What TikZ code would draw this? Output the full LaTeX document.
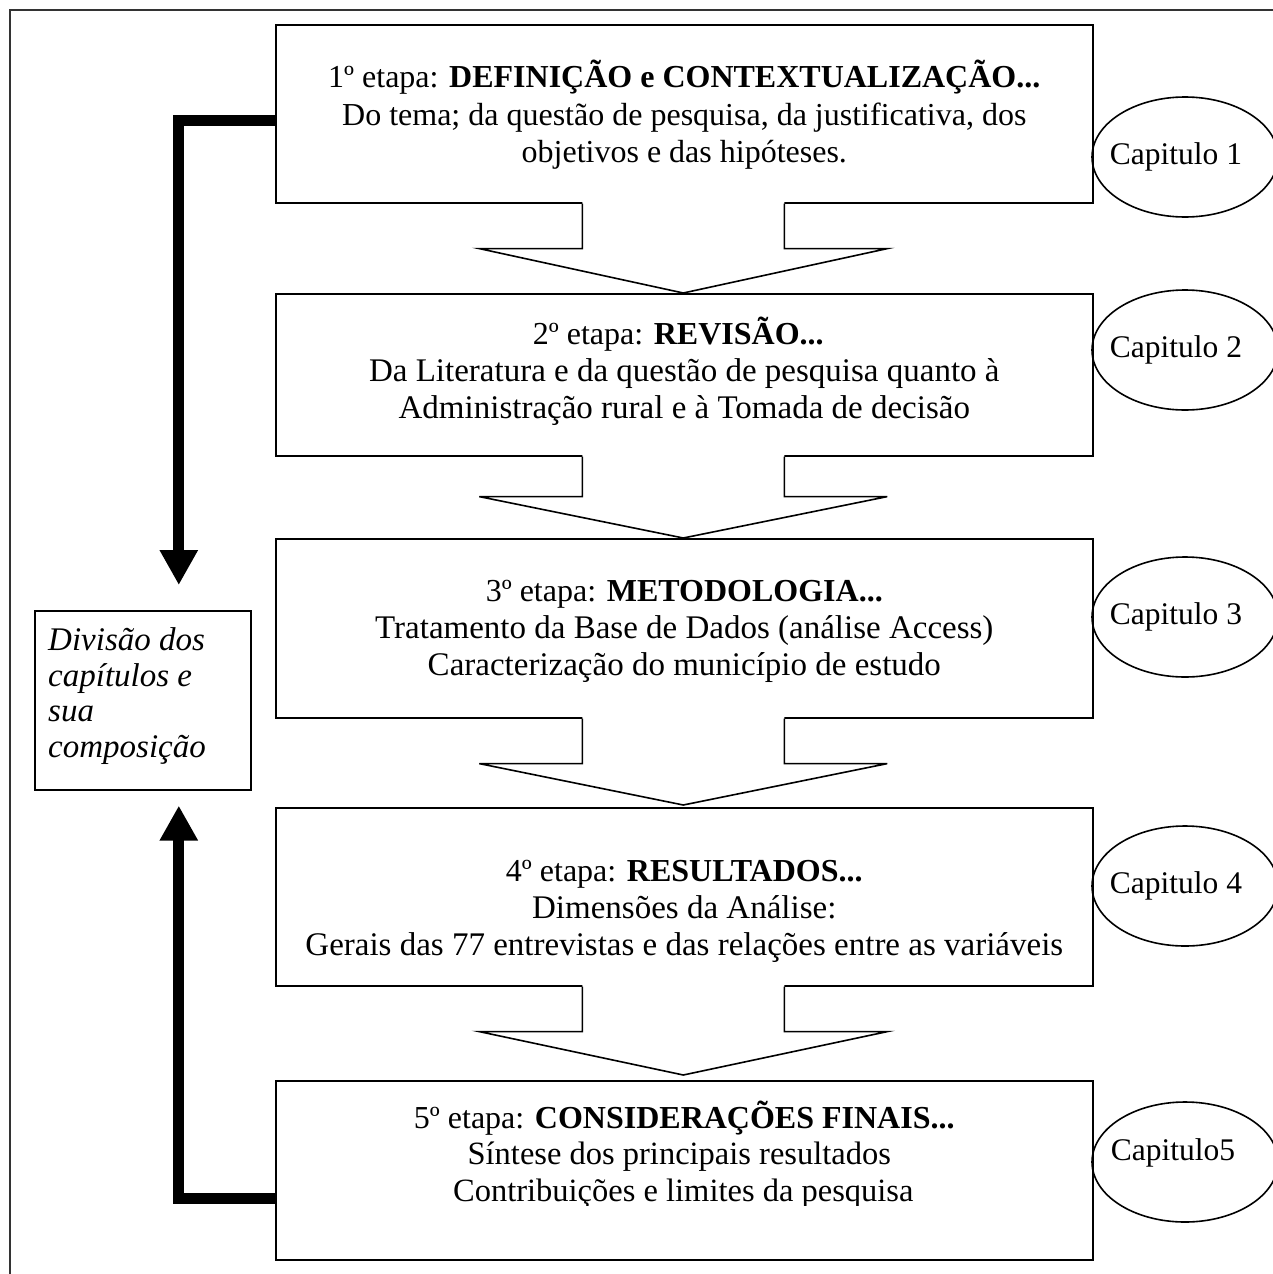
\documentclass[tikz,border=0pt]{standalone}
\usepackage{fontspec}
\setmainfont{Liberation Serif}
\usetikzlibrary{arrows.meta,calc,shapes.geometric}
\begin{document}
\begin{tikzpicture}[x=1pt,y=-1pt,
  thin line/.style={line width=1.6pt, line join=miter},
  stagebox/.style={draw, thin line, minimum width=817pt, inner sep=0pt, anchor=north west},
  headtxt/.style={inner sep=0pt, anchor=base, font=\fontsize{32}{37}\selectfont},
  bodytxt/.style={inner sep=0pt, anchor=base, font=\fontsize{33}{37}\selectfont},
  chap/.style={draw, thin line, ellipse, minimum width=186pt, minimum height=120pt, inner sep=0pt},
  chaptxt/.style={inner sep=0pt, font=\fontsize{31.5}{38}\selectfont},
  sidetxt/.style={inner sep=0pt, anchor=base west, font=\itshape\fontsize{33}{37}\selectfont},
  thick arrow/.style={line width=11pt, line join=miter, -{Triangle[width=36pt,length=35pt]}},
  blockfill/.style={fill=white},
  blockline/.style={thin line}
]
\useasboundingbox (0,0) rectangle (1273,1274);
\clip (0,0) rectangle (1273,1274);
\fill[white] (0,0) rectangle (1273,1274);

% outer frame
\draw[thin line, black!80] (10,10) rectangle (1320,1320);

% stage boxes
\node[stagebox, minimum height=178pt] (b1) at (275,24) {};
\node[stagebox, minimum height=162pt] (b2) at (275,293) {};
\node[stagebox, minimum height=179pt] (b3) at (275,538) {};
\node[stagebox, minimum height=178pt] (b4) at (275,807) {};
\node[stagebox, minimum height=179pt] (b5) at (275,1080) {};

% stage texts (baselines)
\node[headtxt] (t1a) at ($(b1.north)+(0,63)$) {1º etapa: \textbf{DEFINIÇÃO e CONTEXTUALIZAÇÃO...}};
\node[bodytxt, font=\fontsize{32}{37}\selectfont] (t1b) at ($(b1.north)+(0,101)$) {Do tema; da questão de pesquisa, da justificativa, dos};
\node[bodytxt, font=\fontsize{32}{37}\selectfont] (t1c) at ($(b1.north)+(0,138)$) {objetivos e das hipóteses.};

\node[headtxt] (t2a) at ($(b2.north)+(-6,51)$) {2º etapa: \textbf{REVISÃO...}};
\node[bodytxt] (t2b) at ($(b2.north)+(0,88)$) {Da Literatura e da questão de pesquisa quanto à};
\node[bodytxt] (t2c) at ($(b2.north)+(0,125)$) {Administração rural e à Tomada de decisão};

\node[headtxt] (t3a) at ($(b3.north)+(0,63)$) {3º etapa: \textbf{METODOLOGIA...}};
\node[bodytxt] (t3b) at ($(b3.north)+(0,100)$) {Tratamento da Base de Dados (análise Access)};
\node[bodytxt] (t3c) at ($(b3.north)+(0,137)$) {Caracterização do município de estudo};

\node[headtxt] (t4a) at ($(b4.north)+(0,74)$) {4º etapa: \textbf{RESULTADOS...}};
\node[bodytxt] (t4b) at ($(b4.north)+(0,111)$) {Dimensões da Análise:};
\node[bodytxt] (t4c) at ($(b4.north)+(0,148)$) {Gerais das 77 entrevistas e das relações entre as variáveis};

\begin{scope}
\clip (b5.north west) rectangle ($(b5.north east)+(0,125)$);
\node[headtxt] (t5a) at ($(b5.north)+(0,48)$) {5º etapa: \textbf{CONSIDERAÇÕES FINAIS...}};
\node[bodytxt, font=\fontsize{32.5}{37}\selectfont] (t5b) at ($(b5.north)+(-5,84.5)$) {Síntese dos principais resultados};
\node[bodytxt, font=\fontsize{32.5}{37}\selectfont] (t5c) at ($(b5.north)+(-1,121)$) {Contribuições e limites da pesquisa};
\end{scope}

% block arrows between stages
\foreach \up/\dn/\hd/\tp in {b1/b2/45/0, b2/b3/40/0, b3/b4/45/2, b4/b5/45/5}{
  \coordinate (a) at ($(\up.south)+(-1,0)$);
  \coordinate (tip) at ($(a |- \dn.north)+(0,-\tp)$);
  \fill[blockfill] ($(a)+(-101,-2)$) -- ($(a)+(-101,\hd)$) -- ($(a)+(-204,\hd)$) -- (tip) -- ($(a)+(204,\hd)$) -- ($(a)+(101,\hd)$) -- ($(a)+(101,-2)$) -- cycle;
  \draw[blockline] ($(a)+(-101,0)$) -- ($(a)+(-101,\hd)$) -- ($(a)+(-204,\hd)$) -- (tip) -- ($(a)+(204,\hd)$) -- ($(a)+(101,\hd)$) -- ($(a)+(101,0)$);
}

% chapter ellipses
\node[chap] (e1) at (1185,157) {};
\node[chap] (e2) at (1185,350) {};
\node[chap] (e3) at (1185,617) {};
\node[chap] (e4) at (1185,886) {};
\node[chap] (e5) at (1185,1162) {};
\node[chaptxt] (c1) at ($(e1)+(-9,0)$) {Capitulo 1};
\node[chaptxt] (c2) at ($(e2)+(-9,0)$) {Capitulo 2};
\node[chaptxt] (c3) at ($(e3)+(-9,0)$) {Capitulo 3};
\node[chaptxt] (c4) at ($(e4)+(-9,0)$) {Capitulo 4};
\node[chaptxt] (c5) at ($(e5)+(-12,-9)$) {Capitulo5};

% left box
\node[draw, thin line, anchor=north west, minimum width=216pt, minimum height=179pt, inner sep=0pt] (lb) at (34,610) {};
\node[sidetxt] (lt1) at ($(lb.north west)+(14,40)$) {Divisão dos};
\node[sidetxt] (lt2) at ($(lb.north west)+(14,76)$) {capítulos e};
\node[sidetxt] (lt3) at ($(lb.north west)+(14,111)$) {sua};
\node[sidetxt] (lt4) at ($(lb.north west)+(14,147)$) {composição};

% thick arrows
\draw[thick arrow] ($(b1.west)+(0,7)$) -| ($(lb.north)+(36,-25)$);
\draw[thick arrow] ($(b5.west)+(0,28.5)$) -| ($(lb.south)+(36,15)$);
\end{tikzpicture}
\end{document}
